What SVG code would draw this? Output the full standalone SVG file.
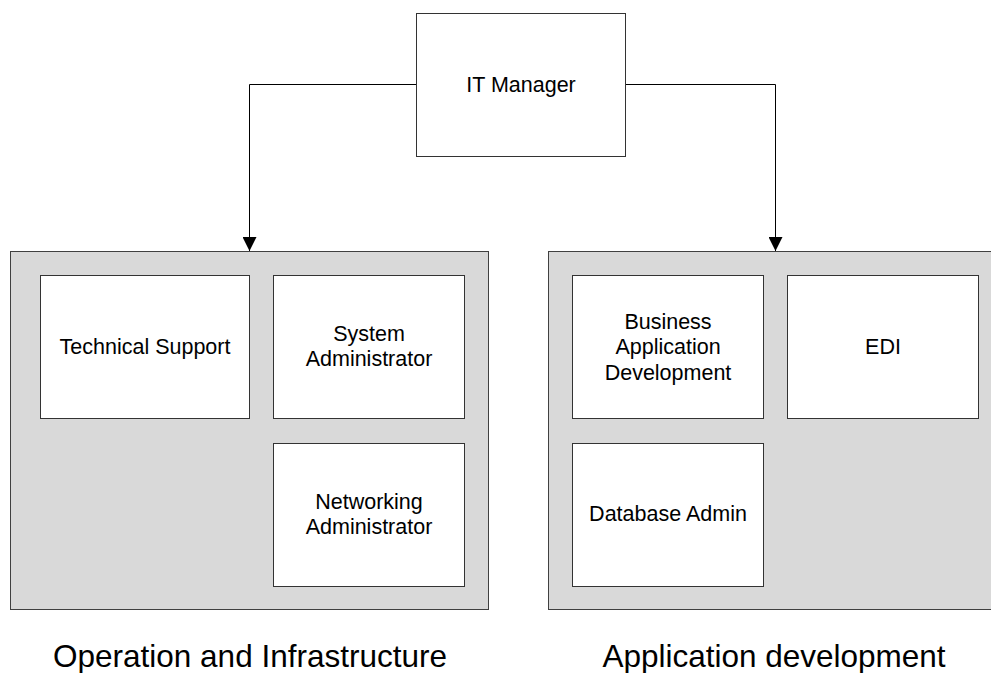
<svg xmlns="http://www.w3.org/2000/svg" width="991" height="673" viewBox="0 0 991 673">
<style>
.grp{fill:#d9d9d9;stroke:#404040;stroke-width:1}
.box{fill:#ffffff;stroke:#333333;stroke-width:1}
.t{font-family:"Liberation Sans",Arial,sans-serif;font-size:21.5px;fill:#000;text-anchor:middle}
.big{font-family:"Liberation Sans",Arial,sans-serif;font-size:31.5px;fill:#000;text-anchor:middle}
.conn{fill:none;stroke:#000;stroke-width:1}
</style>
<defs>
<marker id="arr" markerWidth="14" markerHeight="14" viewBox="0 0 14 14" refX="14" refY="7" orient="auto" markerUnits="userSpaceOnUse">
<path d="M0,0 L14,7 L0,14 Z" fill="#000"/>
</marker>
</defs>
<rect width="991" height="673" fill="#fff"/>
<g id="group-ops">
<rect class="grp" x="10.5" y="251.5" width="478" height="358"/>
<text class="big" x="250" y="667">Operation and Infrastructure</text>
</g>
<g id="group-app">
<rect class="grp" x="548.5" y="251.5" width="478" height="358"/>
<text class="big" x="774" y="667">Application development</text>
</g>
<g id="connectors">
<path class="conn" d="M416,84.5 H249.5 V251" marker-end="url(#arr)"/>
<path class="conn" d="M626,84.5 H775.5 V251" marker-end="url(#arr)"/>
</g>
<g id="it-manager">
<rect class="box" x="416.5" y="13.5" width="209" height="143"/>
<text class="t" x="521" y="92">IT Manager</text>
</g>
<g id="technical-support">
<rect class="box" x="40.5" y="275.5" width="209" height="143"/>
<text class="t" x="145" y="354">Technical Support</text>
</g>
<g id="system-admin">
<rect class="box" x="273.5" y="275.5" width="191" height="143"/>
<text class="t" x="369" y="341">System</text>
<text class="t" x="369" y="366">Administrator</text>
</g>
<g id="networking-admin">
<rect class="box" x="273.5" y="443.5" width="191" height="143"/>
<text class="t" x="369" y="509">Networking</text>
<text class="t" x="369" y="534">Administrator</text>
</g>
<g id="business-app-dev">
<rect class="box" x="572.5" y="275.5" width="191" height="143"/>
<text class="t" x="668" y="328.5">Business</text>
<text class="t" x="668" y="354">Application</text>
<text class="t" x="668" y="379.5">Development</text>
</g>
<g id="edi">
<rect class="box" x="787.5" y="275.5" width="191" height="143"/>
<text class="t" x="883" y="354">EDI</text>
</g>
<g id="database-admin">
<rect class="box" x="572.5" y="443.5" width="191" height="143"/>
<text class="t" x="668" y="521">Database Admin</text>
</g>
</svg>
